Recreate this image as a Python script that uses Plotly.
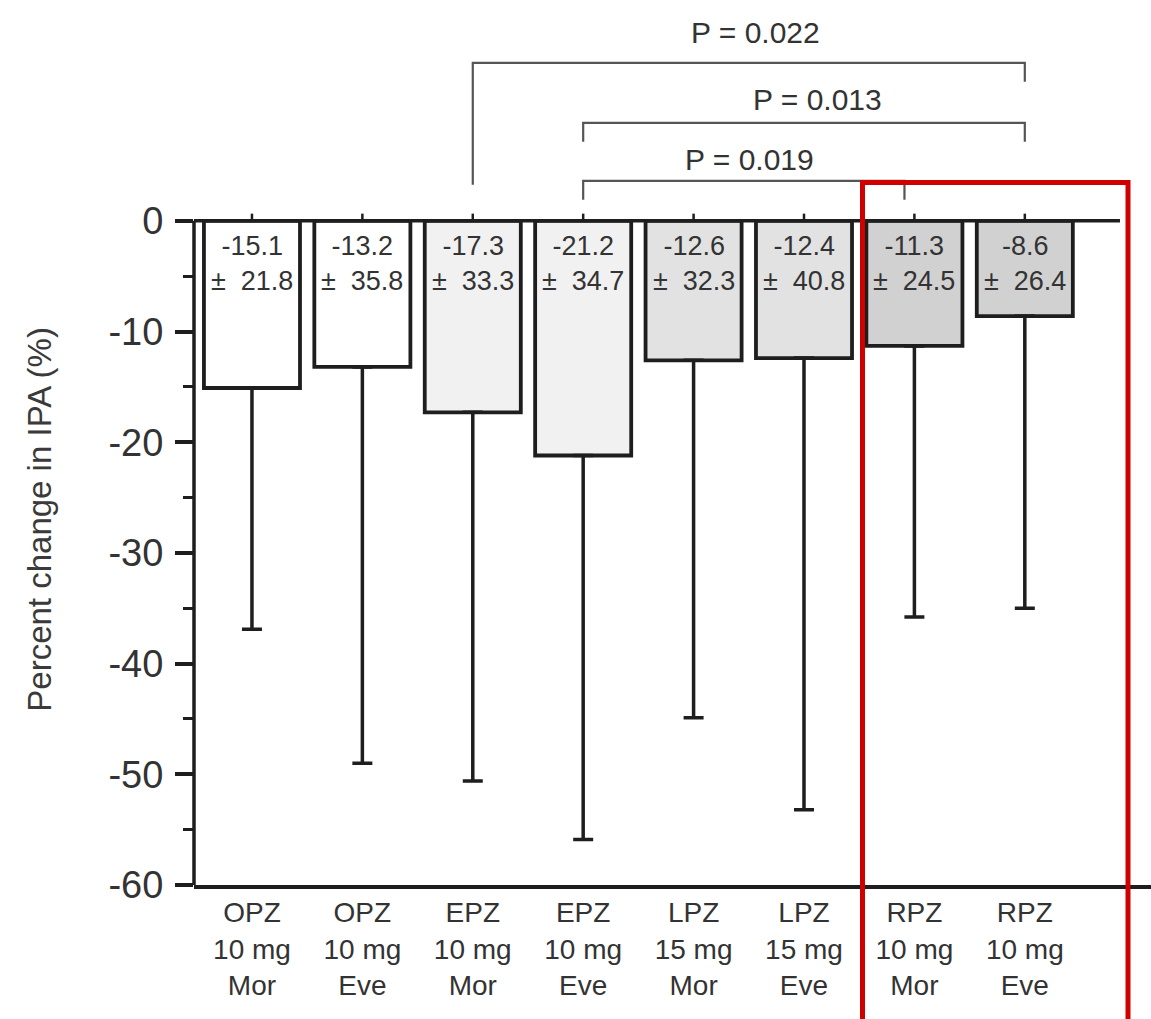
import plotly.graph_objects as go

# Treatment groups (three-line category labels)
drug = ["OPZ", "OPZ", "EPZ", "EPZ", "LPZ", "LPZ", "RPZ", "RPZ"]
dose = ["10 mg", "10 mg", "10 mg", "10 mg", "15 mg", "15 mg", "10 mg", "10 mg"]
timing = ["Mor", "Eve", "Mor", "Eve", "Mor", "Eve", "Mor", "Eve"]

# Percent change in IPA: mean and SD
mean_change = [-15.1, -13.2, -17.3, -21.2, -12.6, -12.4, -11.3, -8.6]
sd_change = [21.8, 35.8, 33.3, 34.7, 32.3, 40.8, 24.5, 26.4]

# Y axis ticks
y_ticks = [0, -10, -20, -30, -40, -50, -60]
y_minor_ticks = [-5, -15, -25, -35, -45, -55]

# Pairwise comparisons (group indices) and their P values
comparison_left = [2, 3, 3]
comparison_right = [7, 7, 6]
p_values = ["0.022", "0.013", "0.019"]

FONT = "Liberation Sans, Arial, Helvetica, sans-serif"
INK = "#1e1e1e"
TEXT = "#333333"
BRACKET = "#555555"
bar_fill = ["#ffffff", "#ffffff", "#f1f1f1", "#f1f1f1",
            "#e2e2e2", "#e2e2e2", "#d1d1d1", "#d1d1d1"]

x_pos = list(range(len(drug)))
X_MIN, X_MAX = -0.525, 8.143
Y_MIN, Y_MAX = -60, 19.95

fig = go.Figure()
fig.add_trace(go.Bar(
    x=x_pos,
    y=mean_change,
    width=0.87,
    marker=dict(color=bar_fill, line=dict(color=INK, width=3.8)),
    error_y=dict(type="data", symmetric=False,
                 array=[0] * len(sd_change), arrayminus=sd_change,
                 color=INK, thickness=3.5, width=10),
    hoverinfo="skip",
))

shapes = []
# y axis line (only spans the data range)
shapes.append(dict(type="line", xref="paper", yref="y", x0=0, x1=0,
                   y0=Y_MIN, y1=0, line=dict(color=INK, width=3.5)))
# zero line
shapes.append(dict(type="line", xref="x", yref="y", x0=X_MIN, x1=7.862,
                   y0=0, y1=0, line=dict(color=INK, width=3.5)))
# small upward ticks at each group on the zero line
for i in x_pos:
    shapes.append(dict(type="line", xref="x", yref="y", x0=i, x1=i,
                       y0=0, y1=0.65, line=dict(color=INK, width=2.5)))

# significance brackets
bracket_top = [14.27, 8.85, 3.61]
left_drop_end = [3.25, 7.14, 1.90]
right_drop_end = [12.56, 7.14, 1.90]
right_dx = [0.0, 0.0, -0.09]
label_y = [16.98, 10.93, 5.51]
label_dx = [0.06, 0.12, 0.05]

annotations = []
for k in range(len(p_values)):
    xl = comparison_left[k]
    xr = comparison_right[k] + right_dx[k]
    top = bracket_top[k]
    shapes.append(dict(
        type="path", xref="x", yref="y",
        path=f"M {xl},{left_drop_end[k]} L {xl},{top} L {xr},{top} L {xr},{right_drop_end[k]}",
        line=dict(color=BRACKET, width=2.2),
    ))
    annotations.append(dict(
        x=(xl + xr) / 2 + label_dx[k], y=label_y[k], xref="x", yref="y",
        text=f"P = {p_values[k]}", showarrow=False,
        font=dict(family=FONT, size=30, color=TEXT),
        xanchor="center", yanchor="middle",
    ))

# highlight box around the RPZ groups
shapes.append(dict(type="rect", xref="paper", yref="paper",
                   x0=(862.5 - 194) / 957, x1=(1128 - 194) / 957,
                   y0=-0.2, y1=1 - 182.5 / 885,
                   line=dict(color="#d10000", width=5), fillcolor="rgba(0,0,0,0)"))

# mean ± SD labels inside the bars
for i, (m, s) in enumerate(zip(mean_change, sd_change)):
    annotations.append(dict(
        x=i, y=0, xref="x", yref="y",
        text=f"{m:.1f}<br>±\u00a0 {s:.1f}", showarrow=False,
        font=dict(family=FONT, size=27, color=TEXT),
        xanchor="center", yanchor="top", yshift=-8,
    ))

# y axis title
annotations.append(dict(
    x=(40 - 194) / 957, y=-27, xref="paper", yref="y",
    text="Percent change in IPA (%)", textangle=-90, showarrow=False,
    font=dict(family=FONT, size=33, color="#3a3a3a"),
    xanchor="center", yanchor="middle",
))

fig.update_layout(
    width=1151, height=1019,
    margin=dict(l=194, r=0, t=0, b=134, pad=0),
    paper_bgcolor="white", plot_bgcolor="white",
    showlegend=False,
    font=dict(family=FONT, color=TEXT),
    shapes=shapes,
    annotations=annotations,
    xaxis=dict(
        range=[X_MIN, X_MAX],
        tickvals=x_pos,
        ticktext=[f"{d}<br>{m}<br>{t}" for d, m, t in zip(drug, dose, timing)],
        tickfont=dict(family=FONT, size=28, color=TEXT),
        showline=True, linecolor=INK, linewidth=3.5,
        ticks="", showgrid=False, zeroline=False, fixedrange=True,
    ),
    yaxis=dict(
        range=[Y_MIN, Y_MAX],
        tickvals=y_ticks,
        ticktext=[str(v) for v in y_ticks],
        tickfont=dict(family=FONT, size=38, color=TEXT),
        ticklabelstandoff=4,
        ticks="outside", ticklen=18, tickwidth=3.5, tickcolor=INK,
        minor=dict(tickvals=y_minor_ticks, ticks="outside", ticklen=10,
                   tickwidth=3, tickcolor=INK, showgrid=False),
        showline=False, showgrid=False, zeroline=False, fixedrange=True,
    ),
)

fig.write_html("out.html")
